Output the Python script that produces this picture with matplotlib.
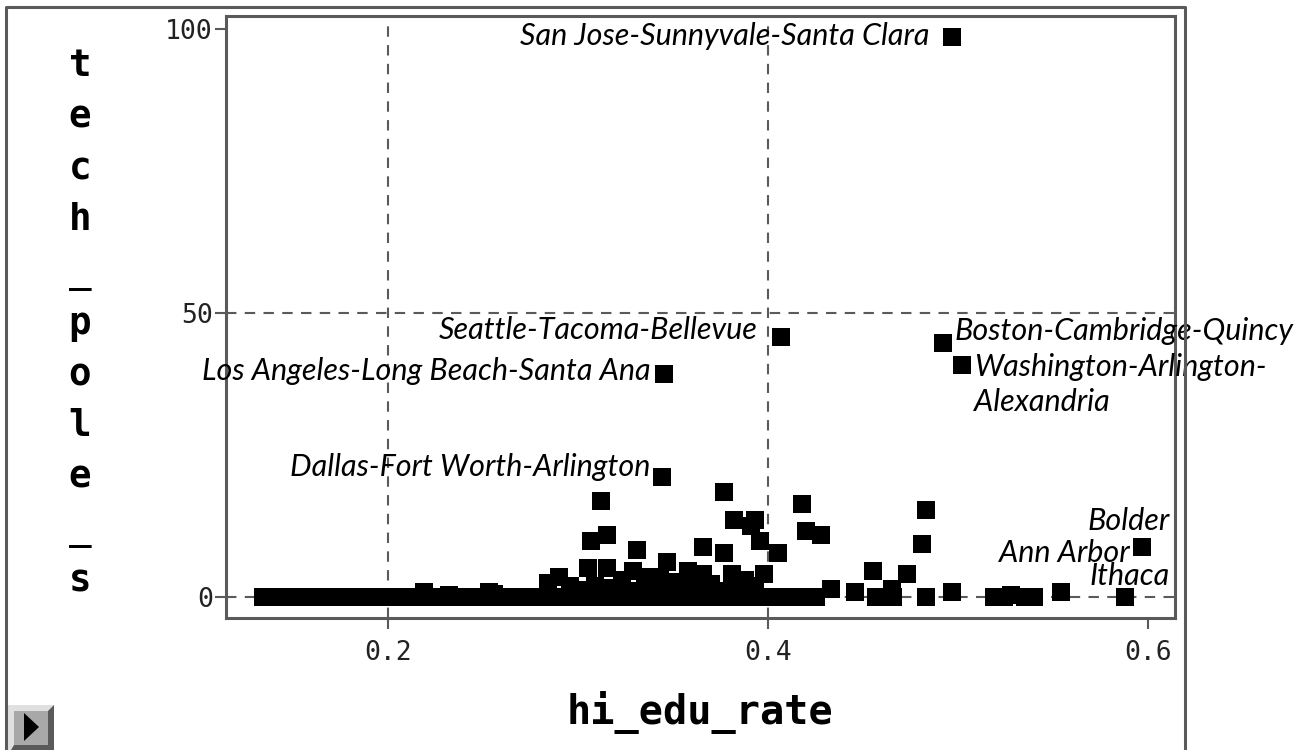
import numpy as np
import matplotlib.pyplot as plt
from matplotlib.lines import Line2D
from matplotlib.patches import Rectangle, Polygon

# Metro areas: share of highly educated vs. tech pole score
# bulk of the metros sitting on tech_pole_s = 0
edu_zero = [0.134, 0.138, 0.143, 0.147, 0.152, 0.156, 0.161, 0.165, 0.170, 0.174,
            0.179, 0.183, 0.188, 0.192, 0.197, 0.201, 0.206, 0.210, 0.214, 0.219,
            0.223, 0.228, 0.232, 0.237, 0.241, 0.246, 0.250, 0.255, 0.259, 0.264,
            0.268, 0.273, 0.277, 0.282, 0.286, 0.291, 0.295, 0.300, 0.304, 0.309,
            0.313, 0.318, 0.322, 0.327, 0.331, 0.336, 0.340, 0.345, 0.349, 0.354,
            0.358, 0.363, 0.367, 0.372, 0.376, 0.381, 0.385, 0.390, 0.394, 0.399,
            0.403, 0.408, 0.412, 0.417, 0.421, 0.425]
tech_zero = [0.0] * len(edu_zero)

# the other unlabelled metros
edu_rest = [0.219, 0.232, 0.253, 0.256, 0.284, 0.290, 0.296, 0.305, 0.315, 0.307,
            0.315, 0.312, 0.323, 0.329, 0.331, 0.338, 0.343, 0.347, 0.352, 0.358,
            0.366, 0.366, 0.377, 0.377, 0.381, 0.382, 0.388, 0.393, 0.393, 0.391,
            0.396, 0.398, 0.405, 0.418, 0.420, 0.428, 0.433, 0.446, 0.455, 0.457,
            0.465, 0.466, 0.473, 0.481, 0.483, 0.483, 0.497, 0.519, 0.524, 0.528,
            0.535, 0.540, 0.301, 0.309, 0.318, 0.327, 0.335, 0.349, 0.355, 0.361,
            0.370, 0.375, 0.384, 0.389]
tech_rest = [0.9, 0.4, 0.9, 0.5, 2.5, 3.5, 1.9, 5.1, 5.1, 9.9,
             10.9, 16.9, 3.0, 4.6, 8.3, 3.5, 3.0, 6.2, 2.6, 4.6,
             4.0, 8.8, 7.7, 18.5, 4.0, 13.6, 3.0, 1.6, 13.6, 12.5,
             9.9, 4.0, 7.7, 16.4, 11.6, 10.9, 1.4, 0.9, 4.6, 0.0,
             1.4, 0.0, 4.0, 9.3, 15.3, 0.0, 0.9, 0.0, 0.0, 0.4,
             0.0, 0.0, 1.2, 2.0, 1.5, 1.0, 1.8, 1.2, 2.0, 1.4,
             2.2, 1.0, 1.2, 2.0]

# labelled metros
names = ['San Jose-Sunnyvale-Santa Clara', 'Seattle-Tacoma-Bellevue',
         'Los Angeles-Long Beach-Santa Ana', 'Dallas-Fort Worth-Arlington',
         'Boston-Cambridge-Quincy', 'Washington-Arlington-\nAlexandria',
         'Bolder', 'Ann Arbor', 'Ithaca']
edu_named = [0.497, 0.407, 0.345, 0.344, 0.492, 0.502, 0.597, 0.554, 0.588]
tech_named = [98.6, 45.8, 39.3, 21.1, 44.7, 40.8, 8.8, 0.9, 0.0]

# label placement (pixels relative to the point) and alignment
offsets = [(-23, 1), (-24, 7), (-13, 3), (-11, 10), (12, 12), (12, -19),
           (27, 26), (69, 39), (45, 21)]
aligns = ['right', 'right', 'right', 'right', 'left', 'left', 'right', 'right', 'right']

x_ticks = [0.2, 0.4, 0.6]
y_ticks = [0, 50, 100]

grey = '#5a5a5a'
W, H = 1313, 750

fig = plt.figure(figsize=(W / 100, H / 100), dpi=100)
ax = fig.add_axes([226 / W, 1 - 618 / H, (1175 - 226) / W, (618 - 16) / H])

ax.set_xlim(0.1147, 0.6142)
ax.set_ylim(-3.7, 102.3)

# dashed reference lines
for xv in [0.2, 0.4]:
    ax.axvline(xv, color=grey, lw=1.5, ls=(0, (5, 4)), zorder=1)
for yv in [0, 50]:
    ax.axhline(yv, color=grey, lw=1.5, ls=(0, (5, 4)), zorder=1)

msize = (18 * 0.72) ** 2
ax.scatter(edu_zero, tech_zero, s=msize, marker='s', c='black', lw=0, zorder=3)
ax.scatter(edu_rest, tech_rest, s=msize, marker='s', c='black', lw=0, zorder=3)
ax.scatter(edu_named, tech_named, s=msize, marker='s', c='black', lw=0, zorder=3)

for name, xv, yv, off, ha in zip(names, edu_named, tech_named, offsets, aligns):
    ax.annotate(name, (xv, yv), xytext=off, textcoords='offset pixels',
                ha=ha, va='center', fontsize=22, style='italic', family='Lato',
                linespacing=1.3, annotation_clip=False, zorder=4)

ax.set_xticks(x_ticks)
ax.set_xticklabels(['0.2', '0.4', '0.6'])
ax.set_yticks(y_ticks)
ax.set_yticklabels(['0', '50', '100'])
ax.tick_params(axis='both', direction='out', length=8, width=1.5, color=grey,
               labelsize=19, labelcolor='#222222')
ax.tick_params(axis='x', pad=8)
ax.tick_params(axis='y', pad=1.5)
for lab in ax.get_xticklabels() + ax.get_yticklabels():
    lab.set_family('DejaVu Sans Mono')

for sp in ax.spines.values():
    sp.set_color(grey)
    sp.set_linewidth(2.2)

# axis titles
fig.text(700 / W, 1 - 712 / H, 'hi_edu_rate', ha='center', va='center',
         fontsize=29, fontweight='bold', family='DejaVu Sans Mono')
for i, ch in enumerate('tech_pole_s'):
    fig.text(80 / W, 1 - (76 + 51.5 * i) / H, ch, ha='center', va='baseline',
             fontsize=27, fontweight='bold', family='DejaVu Sans Mono')

# outer panel frame
fig.add_artist(Line2D([6 / W, 6 / W, 1185 / W, 1185 / W],
                      [-0.05, 1 - 7 / H, 1 - 7 / H, -0.05],
                      transform=fig.transFigure, color=grey, lw=2.2))

# small play button in the corner (bevelled)
fig.add_artist(Rectangle((8 / W, 1 - 750 / H), 46 / W, 45 / H, transform=fig.transFigure,
                         facecolor='#e0e0e0', lw=0))
fig.add_artist(Polygon([[54 / W, 1 - 705 / H], [54 / W, 1 - 750 / H], [11 / W, 1 - 750 / H],
                        [14 / W, 1 - 745 / H], [48 / W, 1 - 745 / H], [48 / W, 1 - 711 / H]],
                       closed=True, transform=fig.transFigure, facecolor=grey, lw=0))
fig.add_artist(Rectangle((14 / W, 1 - 745 / H), 34 / W, 34 / H, transform=fig.transFigure,
                         facecolor='#a8a8a8', lw=0))
fig.add_artist(Polygon([[24 / W, 1 - 713 / H], [24 / W, 1 - 741 / H], [39 / W, 1 - 727 / H]],
                       closed=True, transform=fig.transFigure, facecolor='black'))

fig.savefig('out.png', dpi=100)
